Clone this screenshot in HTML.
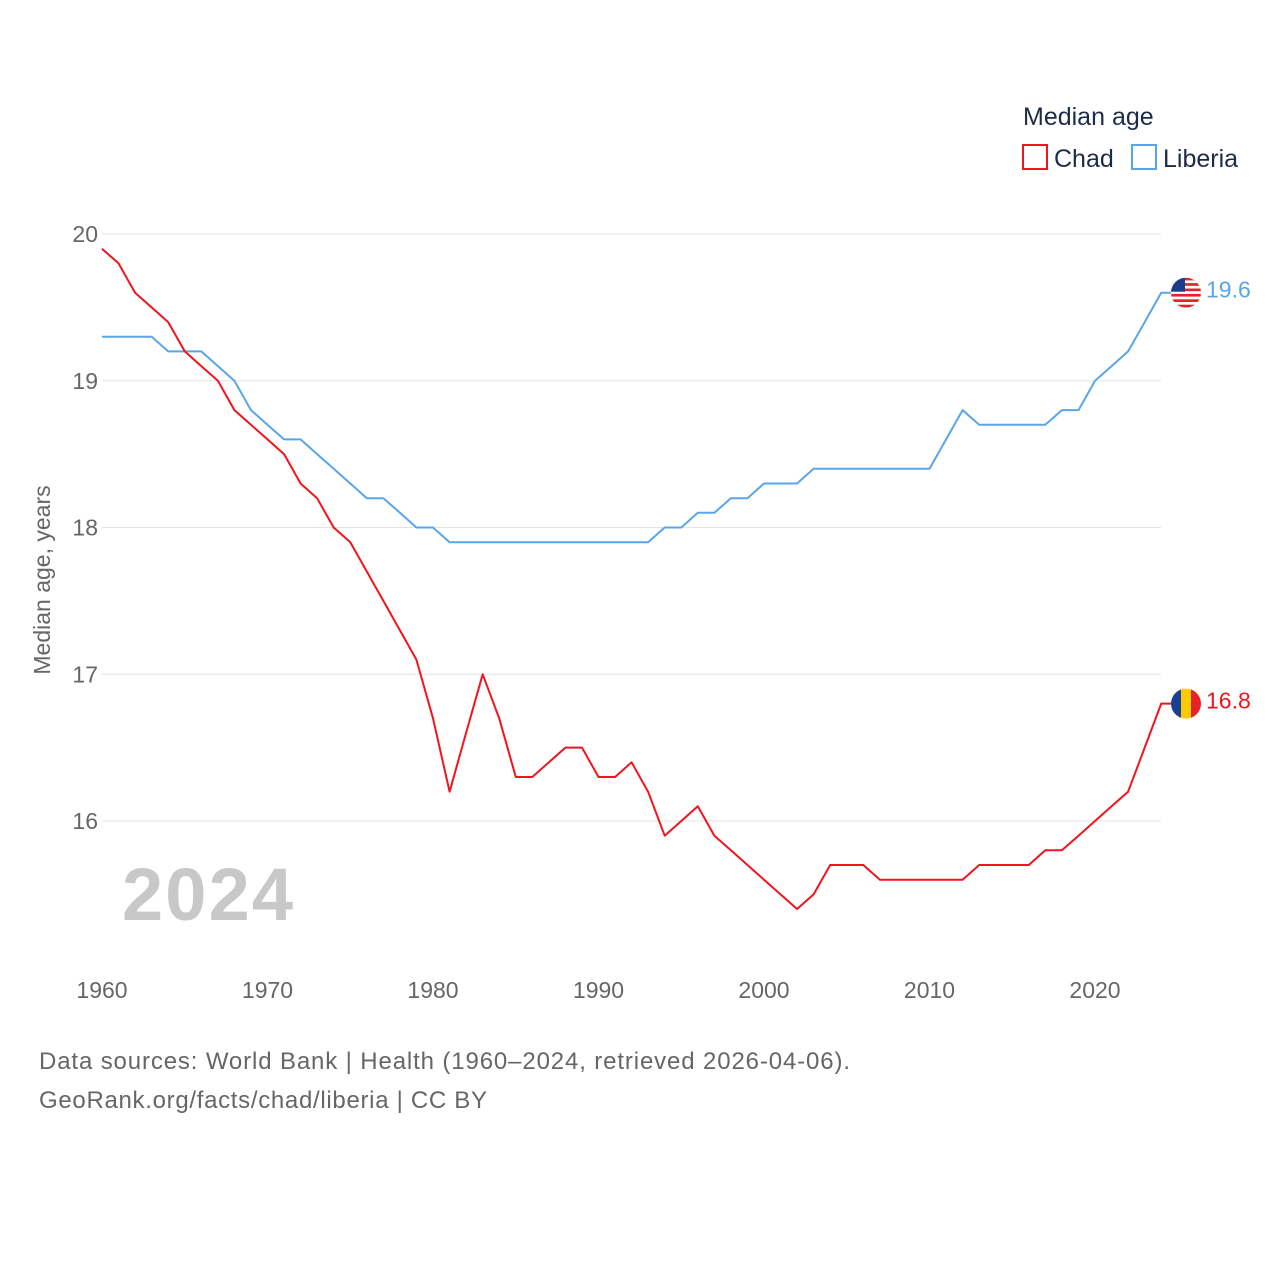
<!DOCTYPE html>
<html><head><meta charset="utf-8"><style>
body{margin:0;background:#fff;font-family:"Liberation Sans",sans-serif;}
svg text{font-family:"Liberation Sans",sans-serif;}
</style></head><body>
<svg id="chart" width="1280" height="1280" xmlns="http://www.w3.org/2000/svg">
<text x="1023" y="125" font-size="25" fill="#1d2b4a">Median age</text>
<g><rect x="1023" y="145" width="24" height="24" fill="none" stroke="#f0141e" stroke-width="2"/><text x="1054" y="167" font-size="25" fill="#1d2b4a">Chad</text></g>
<g><rect x="1132" y="145" width="24" height="24" fill="none" stroke="#5aa5e8" stroke-width="2"/><text x="1163" y="167" font-size="25" fill="#1d2b4a">Liberia</text></g>
<g id="grid"></g>
<g id="xticks"></g>
<text transform="translate(50,580) rotate(-90)" text-anchor="middle" font-size="23" fill="#666">Median age, years</text>
<text x="122" y="920" font-size="74" font-weight="bold" fill="#c8c8c8" textLength="171">2024</text>
<g id="lines"></g>
<text x="39" y="1069" font-size="24" fill="#666" textLength="811">Data sources: World Bank | Health (1960–2024, retrieved 2026-04-06).</text>
<text x="39" y="1108" font-size="24" fill="#666" textLength="448">GeoRank.org/facts/chad/liberia | CC BY</text>
</svg>
<script>
const years=[];for(let y=1960;y<=2024;y++)years.push(y);
const chad=[19.9,19.8,19.6,19.5,19.4,19.2,19.1,19.0,18.8,18.7,18.6,18.5,18.3,18.2,18.0,17.9,17.7,17.5,17.3,17.1,16.7,16.2,16.6,17.0,16.7,16.3,16.3,16.4,16.5,16.5,16.3,16.3,16.4,16.2,15.9,16.0,16.1,15.9,15.8,15.7,15.6,15.5,15.4,15.5,15.7,15.7,15.7,15.6,15.6,15.6,15.6,15.6,15.6,15.7,15.7,15.7,15.7,15.8,15.8,15.9,16.0,16.1,16.2,16.5,16.8];
const liberia=[19.3,19.3,19.3,19.3,19.2,19.2,19.2,19.1,19.0,18.8,18.7,18.6,18.6,18.5,18.4,18.3,18.2,18.2,18.1,18.0,18.0,17.9,17.9,17.9,17.9,17.9,17.9,17.9,17.9,17.9,17.9,17.9,17.9,17.9,18.0,18.0,18.1,18.1,18.2,18.2,18.3,18.3,18.3,18.4,18.4,18.4,18.4,18.4,18.4,18.4,18.4,18.6,18.8,18.7,18.7,18.7,18.7,18.7,18.8,18.8,19.0,19.1,19.2,19.4,19.6];
const yTicks=[16,17,18,19,20];
const xTicks=[1960,1970,1980,1990,2000,2010,2020];
const NS="http://www.w3.org/2000/svg";
const X=y=>102+(y-1960)*(993/60);
const Y=v=>234+(20-v)*146.75;
function mk(t,a,p){const e=document.createElementNS(NS,t);for(const k in a)e.setAttribute(k,a[k]);p.appendChild(e);return e;}
const grid=document.getElementById('grid');
yTicks.forEach(v=>{
 const l=mk('line',{x1:102,x2:1161,y1:Y(v),y2:Y(v),stroke:'#e4e4e4','stroke-width':1},grid);
 
 
 const t=mk('text',{x:98,y:Y(v)+8,'text-anchor':'end','font-size':23,fill:'#666'},grid);t.textContent=v;
 
 
});
const xt=document.getElementById('xticks');
xTicks.forEach(v=>{
 const t=mk('text',{x:X(v),y:998,'text-anchor':'middle','font-size':23,fill:'#666'},xt);t.textContent=v;
 
 
});
const lines=document.getElementById('lines');
function series(vals,col,name){
 const last=vals[vals.length-1];
 const d=vals.map((v,i)=>(i?'L':'M')+X(years[i]).toFixed(1)+','+Y(v).toFixed(1)).join('')+'L1172,'+Y(last).toFixed(1);
 const p=mk('path',{d:d,fill:'none',stroke:col,'stroke-width':2,'stroke-linejoin':'round'},lines);
 
 
 const t=mk('text',{x:1206,y:Y(last)+5,'font-size':23,fill:col},lines);t.textContent=last.toFixed(1);
 
 
}
series(liberia,'#5aa5e8','liberia');
series(chad,'#f0141e','chad');
const lx=1186, ly=Y(liberia[liberia.length-1]);
const lf=mk('g',{},lines);


const lcp=mk('clipPath',{id:'cl'},lf);mk('circle',{cx:lx,cy:ly,r:15},lcp);
const lg=mk('g',{'clip-path':'url(#cl)'},lf);
mk('rect',{x:lx-15,y:ly-15,width:30,height:30,fill:'#fff'},lg);
for(let i=0;i<6;i++)mk('rect',{x:lx-15,y:ly-15+i*5.4,width:30,height:2.7,fill:'#e0242c'},lg);
mk('rect',{x:lx-15,y:ly-15,width:14,height:14,fill:'#1d3b8c'},lg);
const cx=1186, cy=Y(chad[chad.length-1]);
const cf=mk('g',{},lines);


const cp=mk('clipPath',{id:'cc'},cf);mk('circle',{cx:cx,cy:cy,r:15},cp);
const cg=mk('g',{'clip-path':'url(#cc)'},cf);
mk('rect',{x:cx-15,y:cy-15,width:10,height:30,fill:'#1c3f94'},cg);
mk('rect',{x:cx-5,y:cy-15,width:10,height:30,fill:'#fecb00'},cg);
mk('rect',{x:cx+5,y:cy-15,width:10,height:30,fill:'#e3242b'},cg);
</script>
</body></html>
